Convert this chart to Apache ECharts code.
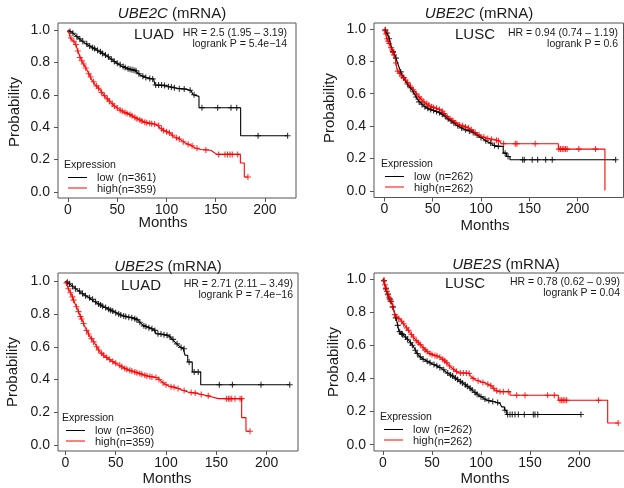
<!DOCTYPE html>
<html>
<head>
<meta charset="utf-8">
<script src="https://cdn.jsdelivr.net/npm/echarts@6/dist/echarts.min.js"></script>
<style>
html,body{margin:0;padding:0;background:#fff}
#main{width:624px;height:488px}
</style>
</head>
<body>
<div id="main"></div>
<script>
// tick labels
var xTicks = [0, 50, 100, 150, 200];
var yTicks = [0, 0.2, 0.4, 0.6, 0.8, 1.0];

// UBE2C - LUAD : survival steps [month, probability] and censor marks
var ube2cLuadLow = [[0,1],[3,0.99],[8,0.965],[12.5,0.94],[17,0.92],[22.6,0.9],[28,0.88],[32.8,0.866],[38,0.845],[42.9,0.825],[49.7,0.795],[55,0.775],[59.8,0.763],[64,0.755],[68,0.75],[70,0.745],[73.3,0.722],[80,0.705],[86.8,0.697],[88.5,0.697],[88.5,0.66],[100,0.655],[104,0.648],[110,0.64],[120,0.635],[125,0.625],[127,0.6],[133,0.59],[133,0.52],[175.3,0.52],[175.3,0.347],[223,0.347]];
var ube2cLuadLowCens = [[2,0.99],[5,0.98],[9,0.96],[12,0.945],[15,0.93],[19,0.915],[22,0.9],[25,0.89],[27,0.885],[30,0.875],[33,0.865],[35,0.855],[38,0.845],[41,0.835],[44,0.82],[47,0.805],[50,0.795],[53,0.785],[56,0.775],[58,0.768],[61,0.76],[63,0.757],[65,0.755],[67,0.752],[69,0.748],[72,0.73],[76,0.715],[79,0.707],[83,0.7],[86,0.698],[89,0.66],[92,0.66],[95,0.66],[98,0.658],[102,0.65],[105,0.648],[108,0.643],[113,0.638],[118,0.635],[124,0.628],[128,0.6],[136,0.52],[152,0.52],[165.5,0.52],[171.3,0.52],[193,0.347],[223,0.347]];
var ube2cLuadHigh = [[0,1],[2.4,0.95],[5,0.935],[7.4,0.918],[9,0.89],[10.8,0.856],[14.2,0.805],[19.3,0.753],[24.3,0.69],[28,0.66],[32.8,0.63],[36,0.6],[39.5,0.578],[44,0.55],[48,0.527],[52,0.51],[56.4,0.495],[62,0.48],[66.6,0.465],[72,0.447],[76.7,0.433],[82,0.425],[86.8,0.42],[90,0.415],[93.6,0.395],[98,0.378],[103.7,0.362],[108,0.34],[113.9,0.325],[119,0.302],[124,0.29],[129,0.272],[135,0.262],[145,0.258],[151,0.232],[175,0.232],[175,0.179],[179,0.179],[179,0.093],[183,0.093]];
var ube2cLuadHighCens = [[3,0.95],[6,0.93],[8,0.91],[10,0.87],[12,0.83],[14,0.81],[16,0.79],[18,0.765],[21,0.73],[23,0.71],[26,0.68],[29,0.655],[31,0.64],[34,0.615],[37,0.595],[40,0.575],[42,0.56],[45,0.545],[47,0.53],[50,0.518],[53,0.505],[55,0.5],[58,0.49],[60,0.485],[63,0.478],[65,0.47],[68,0.46],[70,0.452],[73,0.445],[75,0.438],[78,0.43],[80,0.428],[83,0.424],[85,0.422],[88,0.42],[92,0.41],[95,0.39],[97,0.38],[100,0.372],[103,0.365],[106,0.35],[110,0.335],[113,0.327],[117,0.31],[122,0.295],[126,0.285],[131,0.27],[140,0.26],[153,0.232],[159.4,0.232],[162,0.232],[164.5,0.232],[166.8,0.232],[172.3,0.232],[182.7,0.093]];

// UBE2C - LUSC
var ube2cLuscLow = [[0,1],[2,0.98],[4.5,0.955],[7.9,0.874],[11.4,0.833],[14.8,0.771],[18,0.72],[21.7,0.68],[25,0.65],[28.6,0.626],[32,0.59],[35.5,0.555],[40,0.53],[44,0.512],[50,0.498],[56,0.486],[63,0.462],[66,0.445],[70,0.43],[75,0.405],[80,0.388],[85,0.375],[90.7,0.368],[96,0.345],[101,0.326],[106,0.305],[110,0.295],[114.8,0.275],[123,0.275],[123,0.233],[126.5,0.233],[126.5,0.212],[130,0.212],[130,0.192],[239.3,0.192]];
var ube2cLuscLowCens = [[1,0.995],[3,0.975],[5,0.94],[9,0.86],[12,0.82],[17,0.735],[20,0.7],[24,0.66],[27,0.637],[30,0.612],[33,0.58],[36,0.55],[39,0.535],[42,0.52],[45,0.51],[48,0.502],[51,0.496],[54,0.49],[57,0.484],[60,0.473],[63,0.462],[66,0.445],[69,0.433],[72,0.42],[76,0.402],[80,0.388],[84,0.377],[88,0.37],[92,0.36],[96,0.345],[100,0.33],[105,0.31],[110,0.295],[114,0.28],[118,0.275],[125,0.233],[128,0.212],[143.1,0.192],[144.8,0.192],[153,0.192],[158.6,0.192],[166.9,0.192],[173.7,0.192],[239.3,0.192]];
var ube2cLuscHigh = [[0,1],[2.8,0.936],[6.2,0.895],[8,0.87],[9.7,0.843],[11.4,0.812],[13.1,0.75],[16.6,0.72],[21.7,0.688],[25,0.66],[28.6,0.636],[32,0.61],[35.5,0.585],[39,0.56],[42.4,0.543],[47,0.525],[52.8,0.512],[56,0.505],[59.7,0.495],[63,0.47],[66.6,0.45],[72,0.43],[76.9,0.41],[82,0.4],[87.2,0.388],[92,0.37],[96,0.35],[101,0.336],[106,0.325],[110,0.32],[114.8,0.316],[119.6,0.305],[121,0.291],[180,0.291],[180,0.258],[228.2,0.258],[228.2,0.003]];
var ube2cLuscHighCens = [[1,0.99],[2,0.97],[3,0.94],[4,0.925],[5,0.91],[7,0.885],[8,0.87],[9,0.855],[10,0.84],[12,0.79],[14,0.74],[16,0.725],[18,0.71],[20,0.697],[22,0.685],[24,0.67],[27,0.648],[30,0.625],[33,0.6],[36,0.58],[38,0.567],[41,0.55],[44,0.538],[46,0.53],[49,0.52],[51,0.515],[54,0.51],[57,0.503],[60,0.492],[62,0.478],[65,0.458],[68,0.445],[71,0.435],[74,0.42],[78,0.407],[81,0.402],[84,0.395],[87,0.388],[90,0.378],[94,0.36],[98,0.345],[103,0.332],[107,0.323],[111,0.319],[116,0.313],[118,0.31],[123.4,0.291],[135.5,0.291],[137.2,0.291],[156,0.291],[180.5,0.258],[182.2,0.258],[184,0.258],[185.7,0.258],[187.4,0.258],[189.1,0.258],[201.2,0.258],[218.5,0.258]];

// UBE2S - LUAD
var ube2sLuadLow = [[0,1],[5,0.98],[12.6,0.945],[18,0.92],[22.5,0.904],[28,0.88],[32.5,0.864],[38,0.845],[42.4,0.833],[48,0.815],[52.3,0.802],[57,0.79],[62.3,0.782],[68,0.775],[72.2,0.762],[75,0.745],[77.2,0.731],[82,0.72],[85.4,0.711],[88,0.705],[90.4,0.68],[97,0.675],[102,0.67],[105,0.655],[109,0.629],[114,0.6],[117.2,0.588],[118.9,0.588],[118.9,0.548],[121.6,0.548],[121.6,0.507],[126.1,0.507],[126.1,0.446],[134.5,0.446],[134.5,0.368],[223,0.368]];
var ube2sLuadLowCens = [[2,0.995],[4,0.985],[7,0.97],[10,0.955],[14,0.94],[17,0.925],[20,0.912],[24,0.9],[27,0.89],[30,0.875],[33,0.862],[35,0.855],[37,0.848],[40,0.84],[43,0.83],[45,0.823],[47,0.818],[50,0.808],[53,0.8],[55,0.794],[58,0.788],[60,0.785],[63,0.781],[66,0.778],[69,0.772],[71,0.766],[74,0.75],[78,0.728],[80,0.724],[83,0.716],[86,0.71],[89,0.7],[92,0.68],[95,0.678],[98,0.674],[101,0.671],[104,0.66],[107,0.645],[111,0.618],[115,0.596],[118,0.588],[123,0.507],[128,0.446],[132,0.446],[153,0.368],[166,0.368],[194.4,0.368],[223,0.368]];
var ube2sLuadHigh = [[0,1],[2.6,0.96],[6,0.92],[9.3,0.868],[12,0.83],[14.2,0.796],[17,0.76],[19.2,0.725],[22,0.69],[24.2,0.664],[27,0.64],[29.1,0.623],[32,0.59],[34.1,0.572],[37,0.555],[39.1,0.542],[42,0.53],[45.7,0.515],[49,0.503],[52.3,0.491],[57,0.475],[62.3,0.46],[67,0.45],[72.2,0.44],[77,0.43],[82.1,0.42],[88,0.415],[92,0.409],[95,0.39],[98.7,0.373],[103,0.36],[109,0.352],[115.2,0.338],[122,0.324],[130,0.316],[138.8,0.304],[145,0.295],[152,0.283],[175.2,0.283],[175.2,0.167],[179.5,0.167],[179.5,0.084],[183.5,0.084]];
var ube2sLuadHighCens = [[1,0.99],[3,0.955],[5,0.93],[7,0.905],[8,0.885],[11,0.845],[13,0.815],[15,0.785],[16,0.77],[18,0.742],[21,0.7],[23,0.678],[26,0.65],[28,0.63],[31,0.6],[33,0.58],[36,0.56],[38,0.548],[41,0.535],[44,0.522],[47,0.51],[50,0.5],[54,0.487],[56,0.478],[59,0.468],[61,0.463],[64,0.456],[66,0.452],[69,0.446],[71,0.442],[74,0.436],[76,0.432],[79,0.426],[81,0.422],[84,0.418],[86,0.416],[90,0.412],[93,0.4],[97,0.38],[100,0.368],[105,0.356],[108,0.353],[112,0.345],[118,0.333],[125,0.32],[129,0.318],[135,0.308],[142,0.3],[160,0.283],[162,0.283],[163.6,0.283],[165.3,0.283],[168.6,0.283],[173.6,0.283],[175.2,0.283],[183.5,0.084]];

// UBE2S - LUSC
var ube2sLuscLow = [[0,1],[2.4,0.952],[4,0.92],[5.8,0.891],[9.2,0.851],[11.9,0.791],[14.3,0.74],[16,0.69],[18,0.675],[21.1,0.66],[26.2,0.63],[31.3,0.59],[34,0.56],[36.4,0.539],[40,0.52],[43.2,0.509],[50,0.489],[55,0.475],[60.2,0.459],[64,0.44],[67,0.429],[72,0.41],[77.2,0.388],[82,0.37],[87.4,0.348],[92,0.325],[97.6,0.298],[102,0.283],[106.1,0.268],[114.6,0.258],[119.4,0.249],[121.1,0.249],[121.1,0.228],[123.9,0.228],[123.9,0.208],[126.2,0.208],[126.2,0.182],[202,0.182]];
var ube2sLuscLowCens = [[1,0.99],[3,0.94],[5,0.905],[7,0.88],[8,0.865],[10,0.83],[13,0.765],[15,0.72],[17,0.682],[19,0.67],[20,0.665],[23,0.65],[25,0.636],[28,0.615],[30,0.6],[33,0.57],[35,0.55],[38,0.53],[41,0.515],[45,0.503],[48,0.494],[52,0.484],[55,0.476],[58,0.466],[62,0.452],[66,0.432],[69,0.42],[71,0.414],[74,0.402],[76,0.393],[79,0.382],[81,0.373],[84,0.362],[86,0.352],[89,0.341],[91,0.33],[94,0.315],[96,0.305],[100,0.29],[104,0.275],[108,0.266],[112,0.261],[117,0.254],[124.5,0.208],[127.2,0.182],[129.6,0.182],[131.9,0.182],[134.7,0.182],[138.1,0.182],[144.2,0.182],[153.4,0.182],[155.1,0.182],[157.9,0.182],[202,0.182]];
var ube2sLuscHigh = [[0,1],[2.4,0.956],[4,0.925],[5.8,0.895],[9.2,0.855],[10.9,0.815],[12.6,0.775],[17.7,0.755],[22.8,0.715],[27.9,0.674],[33,0.634],[39.8,0.594],[46.6,0.553],[52,0.54],[56.8,0.533],[60,0.52],[63.6,0.503],[67,0.48],[70.4,0.463],[77.2,0.433],[87.4,0.433],[90,0.41],[94.2,0.392],[100,0.38],[104.4,0.372],[111.2,0.352],[114.3,0.33],[119.4,0.32],[129.6,0.32],[129.6,0.298],[178.9,0.298],[178.9,0.268],[229.3,0.268],[229.3,0.131],[240,0.131]];
var ube2sLuscHighCens = [[1,0.99],[2,0.965],[3,0.945],[4,0.925],[5,0.91],[6,0.89],[7,0.875],[8,0.865],[10,0.835],[12,0.785],[14,0.77],[16,0.76],[19,0.745],[21,0.73],[24,0.705],[26,0.69],[29,0.665],[31,0.65],[34,0.628],[36,0.615],[38,0.605],[41,0.585],[43,0.572],[45,0.562],[48,0.55],[50,0.544],[53,0.538],[55,0.535],[58,0.528],[61,0.515],[63,0.506],[65,0.495],[68,0.475],[72,0.455],[75,0.442],[79,0.433],[82,0.433],[85,0.433],[88,0.43],[92,0.4],[97,0.386],[102,0.376],[107,0.365],[110,0.356],[113,0.34],[116,0.325],[119.4,0.32],[122.8,0.32],[127.9,0.32],[136.4,0.298],[144.9,0.298],[168,0.298],[174.8,0.298],[180.6,0.268],[182.3,0.268],[184,0.268],[185.7,0.268],[187.4,0.268],[219.9,0.268],[240,0.131]];

var FONT = '"Liberation Sans", Arial, Helvetica, sans-serif';
var TXT = '#1a1a1a';
var FRAME = '#555';
var PLUS = 'path://M0,3L6,3M3,0L3,6';

// one entry per sub plot: data + where it sits on the page
var panels = [
  {gene:'UBE2C', cohort:'LUAD', hr:'HR = 2.5 (1.95 \u2013 3.19)', p:'logrank P = 5.4e\u221214', nLow:361, nHigh:359,
   low:ube2cLuadLow, lowCens:ube2cLuadLowCens, high:ube2cLuadHigh, highCens:ube2cLuadHighCens,
   box:[58,23,238,175], xr:[-10.15,231.5], yr:[-0.037,1.043],
   title:[172,14], tag:[154,35], hrPos:[287,33.5], leg:[64,165], ylab:[15,112], xlab:[163,223]},
  {gene:'UBE2C', cohort:'LUSC', hr:'HR = 0.94 (0.74 \u2013 1.19)', p:'logrank P = 0.6', nLow:262, nHigh:262,
   low:ube2cLuscLow, lowCens:ube2cLuscLowCens, high:ube2cLuscHigh, highCens:ube2cLuscHighCens,
   box:[374,23,249.5,174.5], xr:[-10.65,247.4], yr:[-0.041,1.037],
   title:[479,14], tag:[475,35], hrPos:[618,33], leg:[381,164], ylab:[330,108], xlab:[485,226]},
  {gene:'UBE2S', cohort:'LUAD', hr:'HR = 2.71 (2.11 \u2013 3.49)', p:'logrank P = 7.4e\u221216', nLow:360, nHigh:359,
   low:ube2sLuadLow, lowCens:ube2sLuadLowCens, high:ube2sLuadHigh, highCens:ube2sLuadHighCens,
   box:[58,273,240,178], xr:[-7.36,231.2], yr:[-0.037,1.051],
   title:[168,267], tag:[141,286], hrPos:[293,284], leg:[62,418], ylab:[13,372], xlab:[167,479]},
  {gene:'UBE2S', cohort:'LUSC', hr:'HR = 0.78 (0.62 \u2013 0.99)', p:'logrank P = 0.04', nLow:262, nHigh:262,
   low:ube2sLuscLow, lowCens:ube2sLuscLowCens, high:ube2sLuscHigh, highCens:ube2sLuscHighCens,
   box:[374,273,253,178], xr:[-9.2,249], yr:[-0.038,1.036],
   title:[506,265], tag:[465,284], hrPos:[620,282], leg:[380,417], ylab:[334,362], xlab:[485,479]}
];

function txt(x, y, s, size, align, extra) {
  var o = {type:'text', x:x, y:y, silent:true, style:{text:s, fill:TXT, fontFamily:FONT, fontSize:size,
    align:align || 'left', verticalAlign:'middle'}};
  if (extra) for (var k in extra) o.style[k] = extra[k];
  return o;
}

var grids = [], xAxes = [], yAxes = [], series = [], graphics = [];
panels.forEach(function(p, i){
  grids.push({left:p.box[0], top:p.box[1], width:p.box[2], height:p.box[3], show:true,
    borderColor:FRAME, borderWidth:1, backgroundColor:'transparent', outerBoundsMode:'none'});
  xAxes.push({type:'value', gridIndex:i, min:p.xr[0], max:p.xr[1], position:'bottom',
    axisLine:{show:false, onZero:false}, splitLine:{show:false},
    axisTick:{show:true, inside:false, length:4, customValues:xTicks, lineStyle:{color:FRAME}},
    axisLabel:{customValues:xTicks, margin:5, color:TXT, fontSize:14, fontFamily:FONT}});
  yAxes.push({type:'value', gridIndex:i, min:p.yr[0], max:p.yr[1], position:'left',
    axisLine:{show:false, onZero:false}, splitLine:{show:false},
    axisTick:{show:true, inside:false, length:4, customValues:yTicks, lineStyle:{color:FRAME}},
    axisLabel:{customValues:yTicks, margin:8, color:TXT, fontSize:14, fontFamily:FONT,
      formatter:function(v){ return v.toFixed(1); }}});

  [['low','#000'],['high','#ff0000']].forEach(function(g){
    series.push({type:'line', xAxisIndex:i, yAxisIndex:i, data:p[g[0]], symbol:'none',
      lineStyle:{color:g[1], width:1.1}, clip:true, silent:true});
    series.push({type:'scatter', xAxisIndex:i, yAxisIndex:i, data:p[g[0] + 'Cens'], symbol:PLUS,
      symbolSize:6, itemStyle:{color:'none', borderColor:g[1], borderWidth:1.1}, silent:true});
  });

  graphics.push(txt(p.title[0], p.title[1], '{i|' + p.gene + '} (mRNA)', 15, 'center',
    {rich:{i:{fontStyle:'italic', fontSize:15, fontFamily:FONT, fill:TXT}}}));
  graphics.push(txt(p.tag[0], p.tag[1], p.cohort, 15, 'center'));
  graphics.push(txt(p.hrPos[0], p.hrPos[1], p.hr, 10.5, 'right'));
  graphics.push(txt(p.hrPos[0], p.hrPos[1] + 11, p.p, 10.5, 'right'));
  graphics.push(txt(p.ylab[0], p.ylab[1], 'Probability', 15, 'center'));
  graphics[graphics.length - 1].rotation = Math.PI / 2;
  graphics.push(txt(p.xlab[0], p.xlab[1], 'Months', 15, 'center'));

  var lx = p.leg[0], ly = p.leg[1];
  graphics.push(txt(lx, ly, 'Expression', 10.5, 'left'));
  graphics.push({type:'line', silent:true, shape:{x1:lx + 4, y1:ly + 12.5, x2:lx + 23, y2:ly + 12.5}, style:{stroke:'#000', lineWidth:1}});
  graphics.push({type:'line', silent:true, shape:{x1:lx + 4, y1:ly + 23, x2:lx + 23, y2:ly + 23}, style:{stroke:'#ff0000', lineWidth:1}});
  graphics.push(txt(lx + 33, ly + 13, 'low', 11, 'left'));
  graphics.push(txt(lx + 54, ly + 13, '(n=' + p.nLow + ')', 11, 'left'));
  graphics.push(txt(lx + 33, ly + 23.5, 'high', 11, 'left'));
  graphics.push(txt(lx + 54, ly + 25, '(n=' + p.nHigh + ')', 11, 'left'));
});

var myChart = echarts.init(document.getElementById('main'), null, {renderer:'canvas'});
myChart.setOption({
  animation:false,
  backgroundColor:'#fff',
  grid:grids,
  xAxis:xAxes,
  yAxis:yAxes,
  series:series,
  graphic:graphics
});
</script>
</body>
</html>
